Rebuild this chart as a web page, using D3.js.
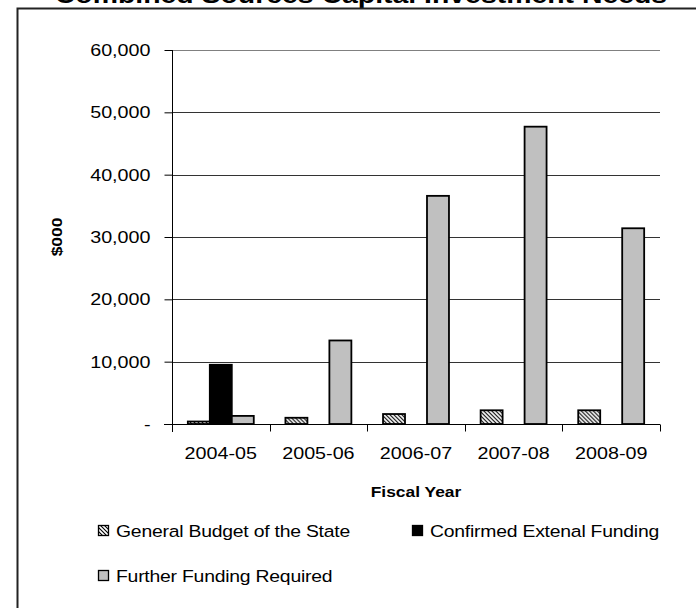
<!DOCTYPE html>
<html>
<head>
<meta charset="utf-8">
<script src="https://cdn.jsdelivr.net/npm/d3@7"></script>
<style>
  html, body { margin: 0; padding: 0; background: #fff; }
  svg { display: block; }
  text { font-family: "Liberation Sans", Arial, sans-serif; }
</style>
</head>
<body>
<div id="chart"></div>
<script>
// Fiscal years on the category axis
const years = ["2004-05", "2005-06", "2006-07", "2007-08", "2008-09"];

// Funding by source, $000
const generalBudget = [400, 1000, 1600, 2200, 2200];
const confirmedExternal = [9500, 0, 0, 0, 0];
const furtherRequired = [1300, 13400, 36600, 47700, 31400];

const seriesNames = ["General Budget of the State", "Confirmed Extenal Funding", "Further Funding Required"];
const yTicks = [0, 10000, 20000, 30000, 40000, 50000, 60000];

const title = "Combined Sources Capital Investment Needs";

const W = 696, H = 608;
const margin = { left: 172, right: 36, top: 50, bottom: 184 };
const WIDE = 1.16; // horizontal widening of all lettering

// Stretch glyphs horizontally about each text's own x position
function widen(sel, k) {
  sel.each(function () {
    const x0 = +this.getAttribute("x") || 0;
    const t = this.getAttribute("transform") || "";
    this.setAttribute("transform",
      `${t} translate(${x0},0) scale(${k},1) translate(${-x0},0)`);
  });
}

const svg = d3.select("#chart").append("svg")
  .attr("width", W).attr("height", H);

// Diagonal hatch for the state budget series
const defs = svg.append("defs");
const pat = defs.append("pattern")
  .attr("id", "hatch")
  .attr("patternUnits", "userSpaceOnUse")
  .attr("width", 4).attr("height", 4);
pat.append("rect").attr("width", 4).attr("height", 4).attr("fill", "#fff");
pat.append("path")
  .attr("d", "M-1,-1 L5,5 M-1,3 L1,5 M3,-1 L5,1")
  .attr("stroke", "#000").attr("stroke-width", 1.1);

const fills = ["url(#hatch)", "#000", "#c0c0c0"];

// Title, running off the top edge of the page
svg.append("text")
  .attr("x", 361).attr("y", 3)
  .attr("text-anchor", "middle")
  .attr("font-size", 24.5).attr("font-weight", "bold")
  .text(title)
  .call(widen, WIDE);

// Outer frame (left and top edges)
svg.append("path")
  .attr("d", `M17.5,${H} L17.5,8.5 L${W},8.5`)
  .attr("fill", "none").attr("stroke", "#222").attr("stroke-width", 2);

const x = d3.scaleBand()
  .domain(years)
  .range([margin.left, W - margin.right]);

const inner = d3.scaleBand()
  .domain(d3.range(3))
  .range([0, x.bandwidth()])
  .paddingOuter(0.72)
  .paddingInner(0);

const y = d3.scaleLinear()
  .domain([0, 60000])
  .range([H - margin.bottom, margin.top]);

// Gridlines
svg.append("g")
  .selectAll("line")
  .data(yTicks.filter(d => d > 0))
  .join("line")
  .attr("x1", margin.left).attr("x2", W - margin.right)
  .attr("y1", d => Math.round(y(d)) + 0.5).attr("y2", d => Math.round(y(d)) + 0.5)
  .attr("stroke", d => d === 60000 ? "#808080" : "#333")
  .attr("stroke-width", 1);

// Bars
const rows = years.map((yr, i) => [generalBudget[i], confirmedExternal[i], furtherRequired[i]]);
const groups = svg.append("g")
  .selectAll("g")
  .data(rows)
  .join("g")
  .attr("transform", (d, i) => `translate(${x(years[i])},0)`);

groups.selectAll("rect")
  .data(d => d.map((v, k) => ({ v, k })).filter(e => e.v > 0))
  .join("rect")
  .attr("x", e => inner(e.k))
  .attr("width", inner.bandwidth())
  .attr("y", e => y(e.v))
  .attr("height", e => y(0) - y(e.v))
  .attr("fill", e => fills[e.k])
  .attr("stroke", "#000")
  .attr("stroke-width", 1.8);

// Y axis
const yAxis = d3.axisLeft(y)
  .tickValues(yTicks)
  .tickSize(8)
  .tickPadding(14)
  .tickFormat(d => d === 0 ? "-" : d3.format(",")(d));

const gy = svg.append("g")
  .attr("transform", `translate(${margin.left + 0.5},0)`)
  .call(yAxis);
gy.select(".domain").attr("stroke", "#000").attr("d", `M0,${y(60000)}V${y(0) + 8}`);
gy.selectAll(".tick line").attr("stroke", "#000");
gy.selectAll(".tick text")
  .attr("font-size", 17).attr("fill", "#000")
  .attr("font-family", "Liberation Sans, Arial, sans-serif")
  .call(widen, WIDE);

// X axis
const xAxis = d3.axisBottom(x)
  .tickSize(0)
  .tickPadding(22);
const gx = svg.append("g")
  .attr("transform", `translate(0,${Math.round(y(0)) + 0.5})`)
  .call(xAxis);
gx.select(".domain").attr("stroke", "#000").attr("d", `M${margin.left - 8},0H${W - margin.right}`);
gx.selectAll(".tick text")
  .attr("font-size", 17).attr("fill", "#000")
  .attr("font-family", "Liberation Sans, Arial, sans-serif")
  .call(widen, WIDE);

// Category separators below the axis
gx.append("g")
  .selectAll("line")
  .data(years.map(d => x(d)).concat([x.range()[1]]))
  .join("line")
  .attr("x1", d => Math.round(d) + 0.5).attr("x2", d => Math.round(d) + 0.5)
  .attr("y1", 0).attr("y2", 7)
  .attr("stroke", "#000");

// Axis titles
svg.append("text")
  .attr("transform", `translate(62,${(y(0) + y(60000)) / 2}) rotate(-90)`)
  .attr("text-anchor", "middle")
  .attr("font-size", 15).attr("font-weight", "bold")
  .text("$000")
  .call(widen, WIDE);

svg.append("text")
  .attr("x", (x.range()[0] + x.range()[1]) / 2)
  .attr("y", 497)
  .attr("text-anchor", "middle")
  .attr("font-size", 15).attr("font-weight", "bold")
  .text("Fiscal Year")
  .call(widen, WIDE);

// Legend
const legendPos = [[98, 531], [412, 531], [98, 576]];
const lg = svg.append("g")
  .selectAll("g")
  .data(seriesNames)
  .join("g")
  .attr("transform", (d, i) => `translate(${legendPos[i][0]},${legendPos[i][1]})`);
lg.append("rect")
  .attr("x", 0.5).attr("y", -5.5)
  .attr("width", 10).attr("height", 10)
  .attr("fill", (d, i) => fills[i])
  .attr("stroke", "#000").attr("stroke-width", 1.3);
lg.append("text")
  .attr("x", 18).attr("y", 6)
  .attr("font-size", 17)
  .attr("letter-spacing", -0.2)
  .text(d => d)
  .call(widen, 1.14);
</script>
</body>
</html>
